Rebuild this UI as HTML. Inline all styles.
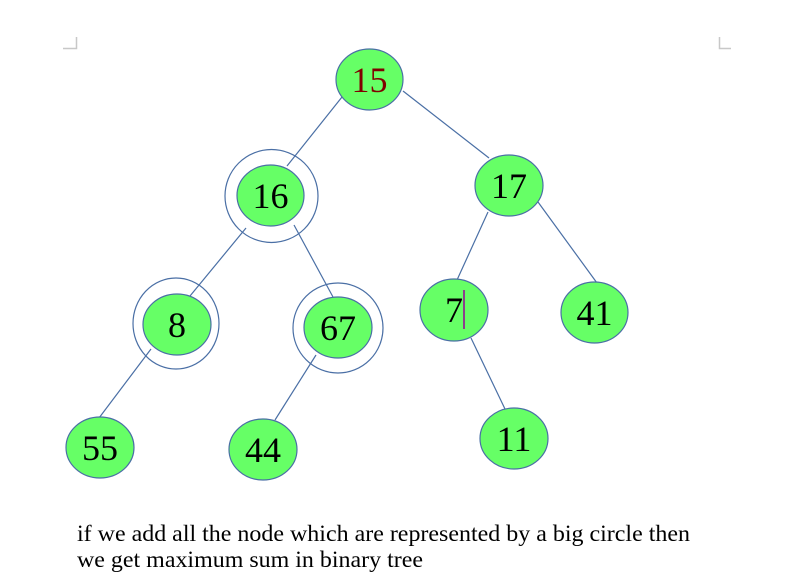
<!DOCTYPE html>
<html><head><meta charset="utf-8"><style>
html,body{margin:0;padding:0;background:#fff;width:788px;height:588px;overflow:hidden}
svg{display:block}
</style></head><body>
<svg width="788" height="588" viewBox="0 0 788 588" xmlns="http://www.w3.org/2000/svg">
<g stroke="#c8c8c8" stroke-width="1.5" fill="none">
<path d="M63 48.5H76.5V37"/>
<path d="M731 48.5H719.5V37"/>
</g>
<g stroke="#4a6fa5" stroke-width="1.2" fill="none">
<line x1="342" y1="97" x2="287" y2="166"/>
<line x1="403" y1="91" x2="489" y2="158"/>
<line x1="246" y1="228" x2="190" y2="296"/>
<line x1="294" y1="225" x2="333" y2="297"/>
<line x1="151" y1="349" x2="99" y2="418"/>
<line x1="316" y1="355" x2="275" y2="420"/>
<line x1="488" y1="212" x2="457" y2="280"/>
<line x1="538" y1="202" x2="597" y2="283"/>
<line x1="471" y1="338" x2="505" y2="409"/>
<circle cx="271.5" cy="196" r="46.5"/>
<ellipse cx="176" cy="323.5" rx="43" ry="45.5"/>
<circle cx="338" cy="328" r="45"/>
</g>
<g fill="#66ff66" stroke="#4a6fa5" stroke-width="1.2">
<ellipse cx="369.5" cy="79.5" rx="33.5" ry="30.5"/>
<ellipse cx="270.5" cy="195.5" rx="33.5" ry="30.5"/>
<ellipse cx="509" cy="185.5" rx="34" ry="30.5"/>
<ellipse cx="177" cy="324.5" rx="34" ry="30.5"/>
<ellipse cx="338" cy="327.5" rx="34" ry="30.5"/>
<ellipse cx="454" cy="310" rx="34" ry="31"/>
<ellipse cx="594.5" cy="312.5" rx="33.5" ry="30.5"/>
<ellipse cx="100" cy="447.5" rx="34" ry="30.5"/>
<ellipse cx="263" cy="449.5" rx="34" ry="30.5"/>
<ellipse cx="514" cy="438.5" rx="34" ry="30.5"/>
</g>
<g font-family="Liberation Serif, serif" font-size="36" text-anchor="middle" fill="#000">
<text x="369.5" y="92" fill="#800000">15</text>
<text x="270.5" y="208">16</text>
<text x="509" y="198">17</text>
<text x="177" y="337">8</text>
<text x="338" y="340">67</text>
<text x="454" y="322">7</text>
<text x="594.5" y="325">41</text>
<text x="100" y="460">55</text>
<text x="263" y="462">44</text>
<text x="514" y="451">11</text>
</g>
<line x1="464" y1="290" x2="464" y2="329" stroke="#990099" stroke-width="1.5"/>
<g font-family="Liberation Serif, serif" font-size="23" fill="#000">
<text x="77" y="541" textLength="613" lengthAdjust="spacingAndGlyphs">if we add all the node which are represented by a big circle then</text>
<text x="77" y="567" textLength="346" lengthAdjust="spacingAndGlyphs">we get maximum sum in binary tree</text>
</g>
</svg>
</body></html>
